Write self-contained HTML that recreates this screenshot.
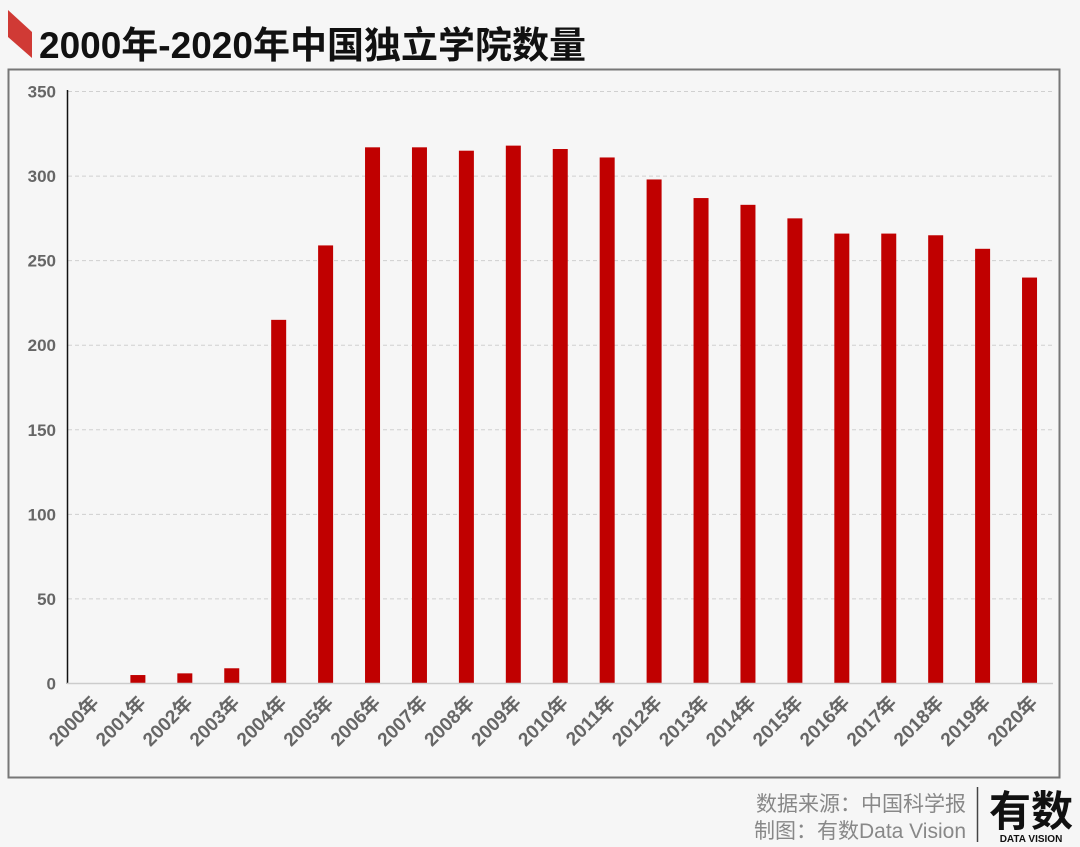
<!DOCTYPE html>
<html><head><meta charset="utf-8">
<style>
html,body{margin:0;padding:0;background:#f6f6f6;width:1080px;height:847px;overflow:hidden;font-family:"Liberation Sans","Noto Sans CJK SC",sans-serif;}
</style></head>
<body>
<svg width="1080" height="847" viewBox="0 0 1080 847" xmlns="http://www.w3.org/2000/svg">
<rect x="0" y="0" width="1080" height="847" fill="#f6f6f6"/>
<polygon points="8,10 32,32 32,58 8,37" fill="#d03a35"/>
<text x="39" y="58" font-size="37" font-weight="bold" fill="#111" font-family="'Liberation Sans','Noto Sans CJK SC',sans-serif">2000年-2020年中国独立学院数量</text>
<rect x="8.5" y="69.5" width="1051" height="708" fill="#f6f6f6" stroke="#777" stroke-width="2"/>
<g id="grid"></g>
<g id="bars"></g>
<g id="xlabels"></g>
<line x1="67.5" y1="90" x2="67.5" y2="684" stroke="#111" stroke-width="1.5"/>
<line x1="67" y1="683.5" x2="1053" y2="683.5" stroke="#ccc" stroke-width="1.5"/>
<text x="966" y="811" font-size="21" fill="#888" text-anchor="end">数据来源：中国科学报</text>
<text x="966" y="838" font-size="21" fill="#888" text-anchor="end">制图：有数Data Vision</text>
<line x1="977.5" y1="787" x2="977.5" y2="842" stroke="#444" stroke-width="1.5"/>
<text x="1031" y="826" font-size="42" font-weight="bold" fill="#111" text-anchor="middle">有数</text>
<text x="1031" y="842" font-size="10" font-weight="bold" fill="#111" text-anchor="middle">DATA VISION</text>
</svg>
<script>
const categories=["2000年","2001年","2002年","2003年","2004年","2005年","2006年","2007年","2008年","2009年","2010年","2011年","2012年","2013年","2014年","2015年","2016年","2017年","2018年","2019年","2020年"];
const values=[0,5,6,9,215,259,317,317,315,318,316,311,298,287,283,275,266,266,265,257,240];
const yTicks=[0,50,100,150,200,250,300,350];
const NS="http://www.w3.org/2000/svg";
const y0=683.5,yTop=91.5,yMax=350;
const xStart=67.5,xEnd=1053;
function yScale(v){return y0-(v/yMax)*(y0-yTop);}
const step=(xEnd-xStart)/categories.length;
function xCenter(i){return xStart+step*(i+0.5);}
const grid=document.getElementById('grid');
yTicks.forEach(t=>{
  const y=yScale(t);
  if(t>0){
    const l=document.createElementNS(NS,'line');
    l.setAttribute('x1',68);l.setAttribute('x2',1053);l.setAttribute('y1',y);l.setAttribute('y2',y);
    l.setAttribute('stroke','#d0d0d0');l.setAttribute('stroke-dasharray','4,3');
    
    
    grid.appendChild(l);
  }
  const tx=document.createElementNS(NS,'text');
  tx.setAttribute('x',56);tx.setAttribute('y',y+6);tx.setAttribute('text-anchor','end');
  tx.setAttribute('font-size','17');tx.setAttribute('font-weight','bold');tx.setAttribute('fill','#666');
  tx.textContent=t;
  
  
  grid.appendChild(tx);
});
const bars=document.getElementById('bars'),xl=document.getElementById('xlabels');
const bw=15;
categories.forEach((c,i)=>{
  const cx=xCenter(i),v=values[i];
  const r=document.createElementNS(NS,'rect');
  r.setAttribute('x',cx-bw/2);r.setAttribute('y',yScale(v));
  r.setAttribute('width',bw);r.setAttribute('height',y0-yScale(v));
  r.setAttribute('fill','#c00000');
  
  
  bars.appendChild(r);
  const t=document.createElementNS(NS,'text');
  const ax=cx+9,ay=704;
  t.setAttribute('x',ax);t.setAttribute('y',ay);t.setAttribute('text-anchor','end');
  t.setAttribute('transform','rotate(-45 '+ax+' '+ay+')');
  t.setAttribute('font-size','19');t.setAttribute('font-weight','bold');t.setAttribute('fill','#666');
  t.textContent=c;
  
  
  xl.appendChild(t);
});
</script>
</body></html>
